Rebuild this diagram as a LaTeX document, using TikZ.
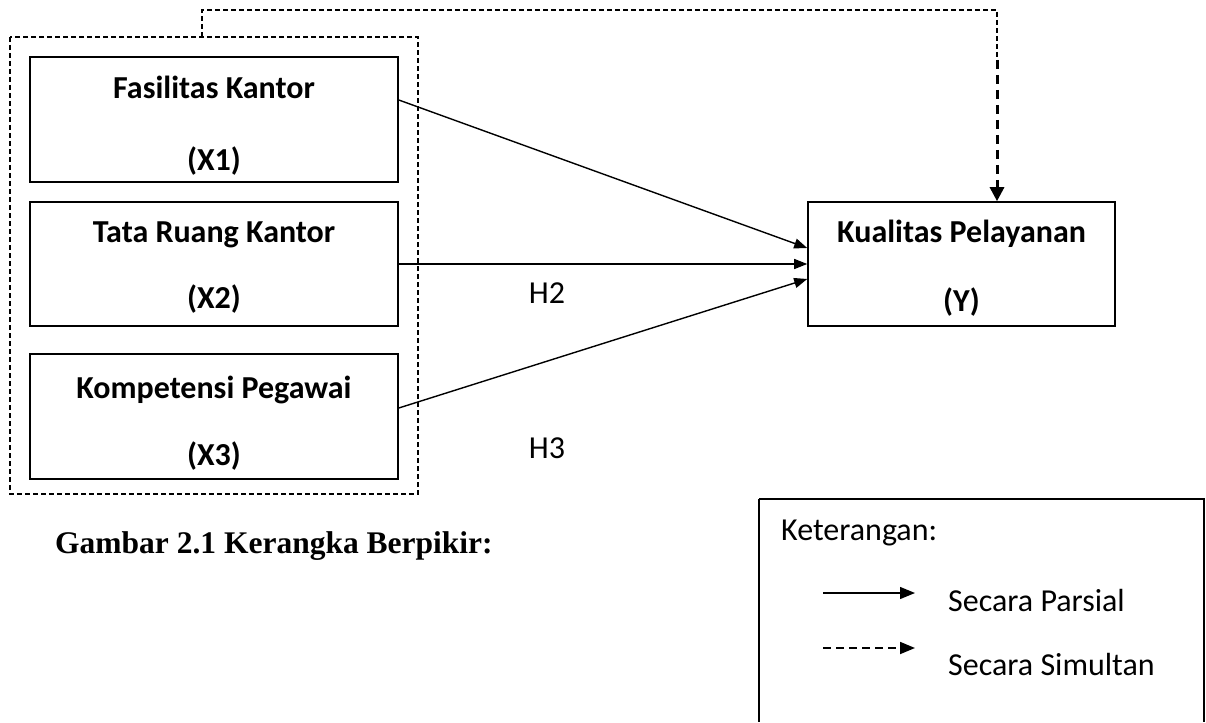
\documentclass[tikz,border=0pt]{standalone}
\usepackage{fontspec}
\setmainfont{Carlito}
\newfontfamily\capfont{Liberation Serif}
\usetikzlibrary{arrows.meta}
\begin{document}
\begin{tikzpicture}[x=1pt,y=-1pt,
  varbox/.style={draw,line width=1.6pt,inner sep=0pt},
  vtext/.style={anchor=base,inner sep=0pt,font=\fontsize{32}{38}\selectfont\bfseries},
  parsial/.style={line width=1.4pt,-{Triangle[length=13pt,width=10pt]}},
  thindash/.style={line width=1.3pt,dash pattern=on 5pt off 3pt},
  lbl/.style={font=\fontsize{32}{38}\selectfont,inner sep=0pt,anchor=base}
]
\useasboundingbox (0,0) rectangle (1206,722);
\fill[white] (0,0) rectangle (1206,722);
% outer dashed group
\draw[thindash] (10,37) rectangle (418,494);
\coordinate (gtop) at (202,37);
% variable boxes
\node[varbox,minimum width=368pt,minimum height=125pt] (x1) at (214,119.5) {};
\node[vtext] (x1a) at (214,99) {Fasilitas Kantor};
\node[vtext] (x1b) at (214,171) {(X1)};
\node[varbox,minimum width=368pt,minimum height=124pt] (x2) at (214,264) {};
\node[vtext] (x2a) at (214,242) {Tata Ruang Kantor};
\node[vtext] (x2b) at (214,308) {(X2)};
\node[varbox,minimum width=368pt,minimum height=125pt] (x3) at (214,416.5) {};
\node[vtext] (x3a) at (214,398) {Kompetensi Pegawai};
\node[vtext] (x3b) at (214,465) {(X3)};
\node[varbox,minimum width=307pt,minimum height=124pt] (y) at (961.5,264) {};
\node[vtext] (ya) at (961.5,242) {Kualitas Pelayanan};
\node[vtext] (yb) at (961.5,311) {(Y)};
% partial arrows
\draw[parsial] (x1.east |- 0,100) -- (y.west |- 0,248);
\draw[parsial] (x2.east) -- (y.west);
\draw[parsial] (x3.east |- 0,408) -- (y.west |- 0,279);
\node[lbl] (h2) at (547,303) {H2};
\node[lbl] (h3) at (547,458) {H3};
% simultaneous arrow
\coordinate (c1) at (202,10);
\coordinate (c2) at (997,10);
\coordinate (c3) at (997,60);
\draw[thindash] (gtop) -- (c1) -- (c2) -- (c3);
\draw[line width=3pt,dash pattern=on 9pt off 6pt,-{Triangle[length=14pt,width=14pt]}] (c3) -- (y.north -| c3);
% caption
\node[font=\capfont\fontsize{31.5}{36}\selectfont\bfseries,anchor=base west,inner sep=0pt] (cap) at (55,553) {Gambar 2.1 Kerangka Berpikir:};
% legend
\draw[line width=1.6pt] (759,499) -- (1204,499) -- (1204,722) (759,499) -- (759,722);
\node[lbl,anchor=base west] (ket) at (781,540) {Keterangan:};
\coordinate (la1) at (823,593);
\coordinate (la2) at (915,593);
\draw[line width=1.3pt,-{Triangle[length=15pt,width=12pt]}] (la1) -- (la2);
\node[lbl,anchor=base west] (lp) at (948,611) {Secara Parsial};
\coordinate (lb1) at (823,648);
\coordinate (lb2) at (915,648);
\draw[line width=1.8pt,dash pattern=on 8pt off 5pt,-{Triangle[length=15pt,width=12pt]}] (lb1) -- (lb2);
\node[lbl,anchor=base west] (ls) at (948,675) {Secara Simultan};
\end{tikzpicture}
\end{document}
